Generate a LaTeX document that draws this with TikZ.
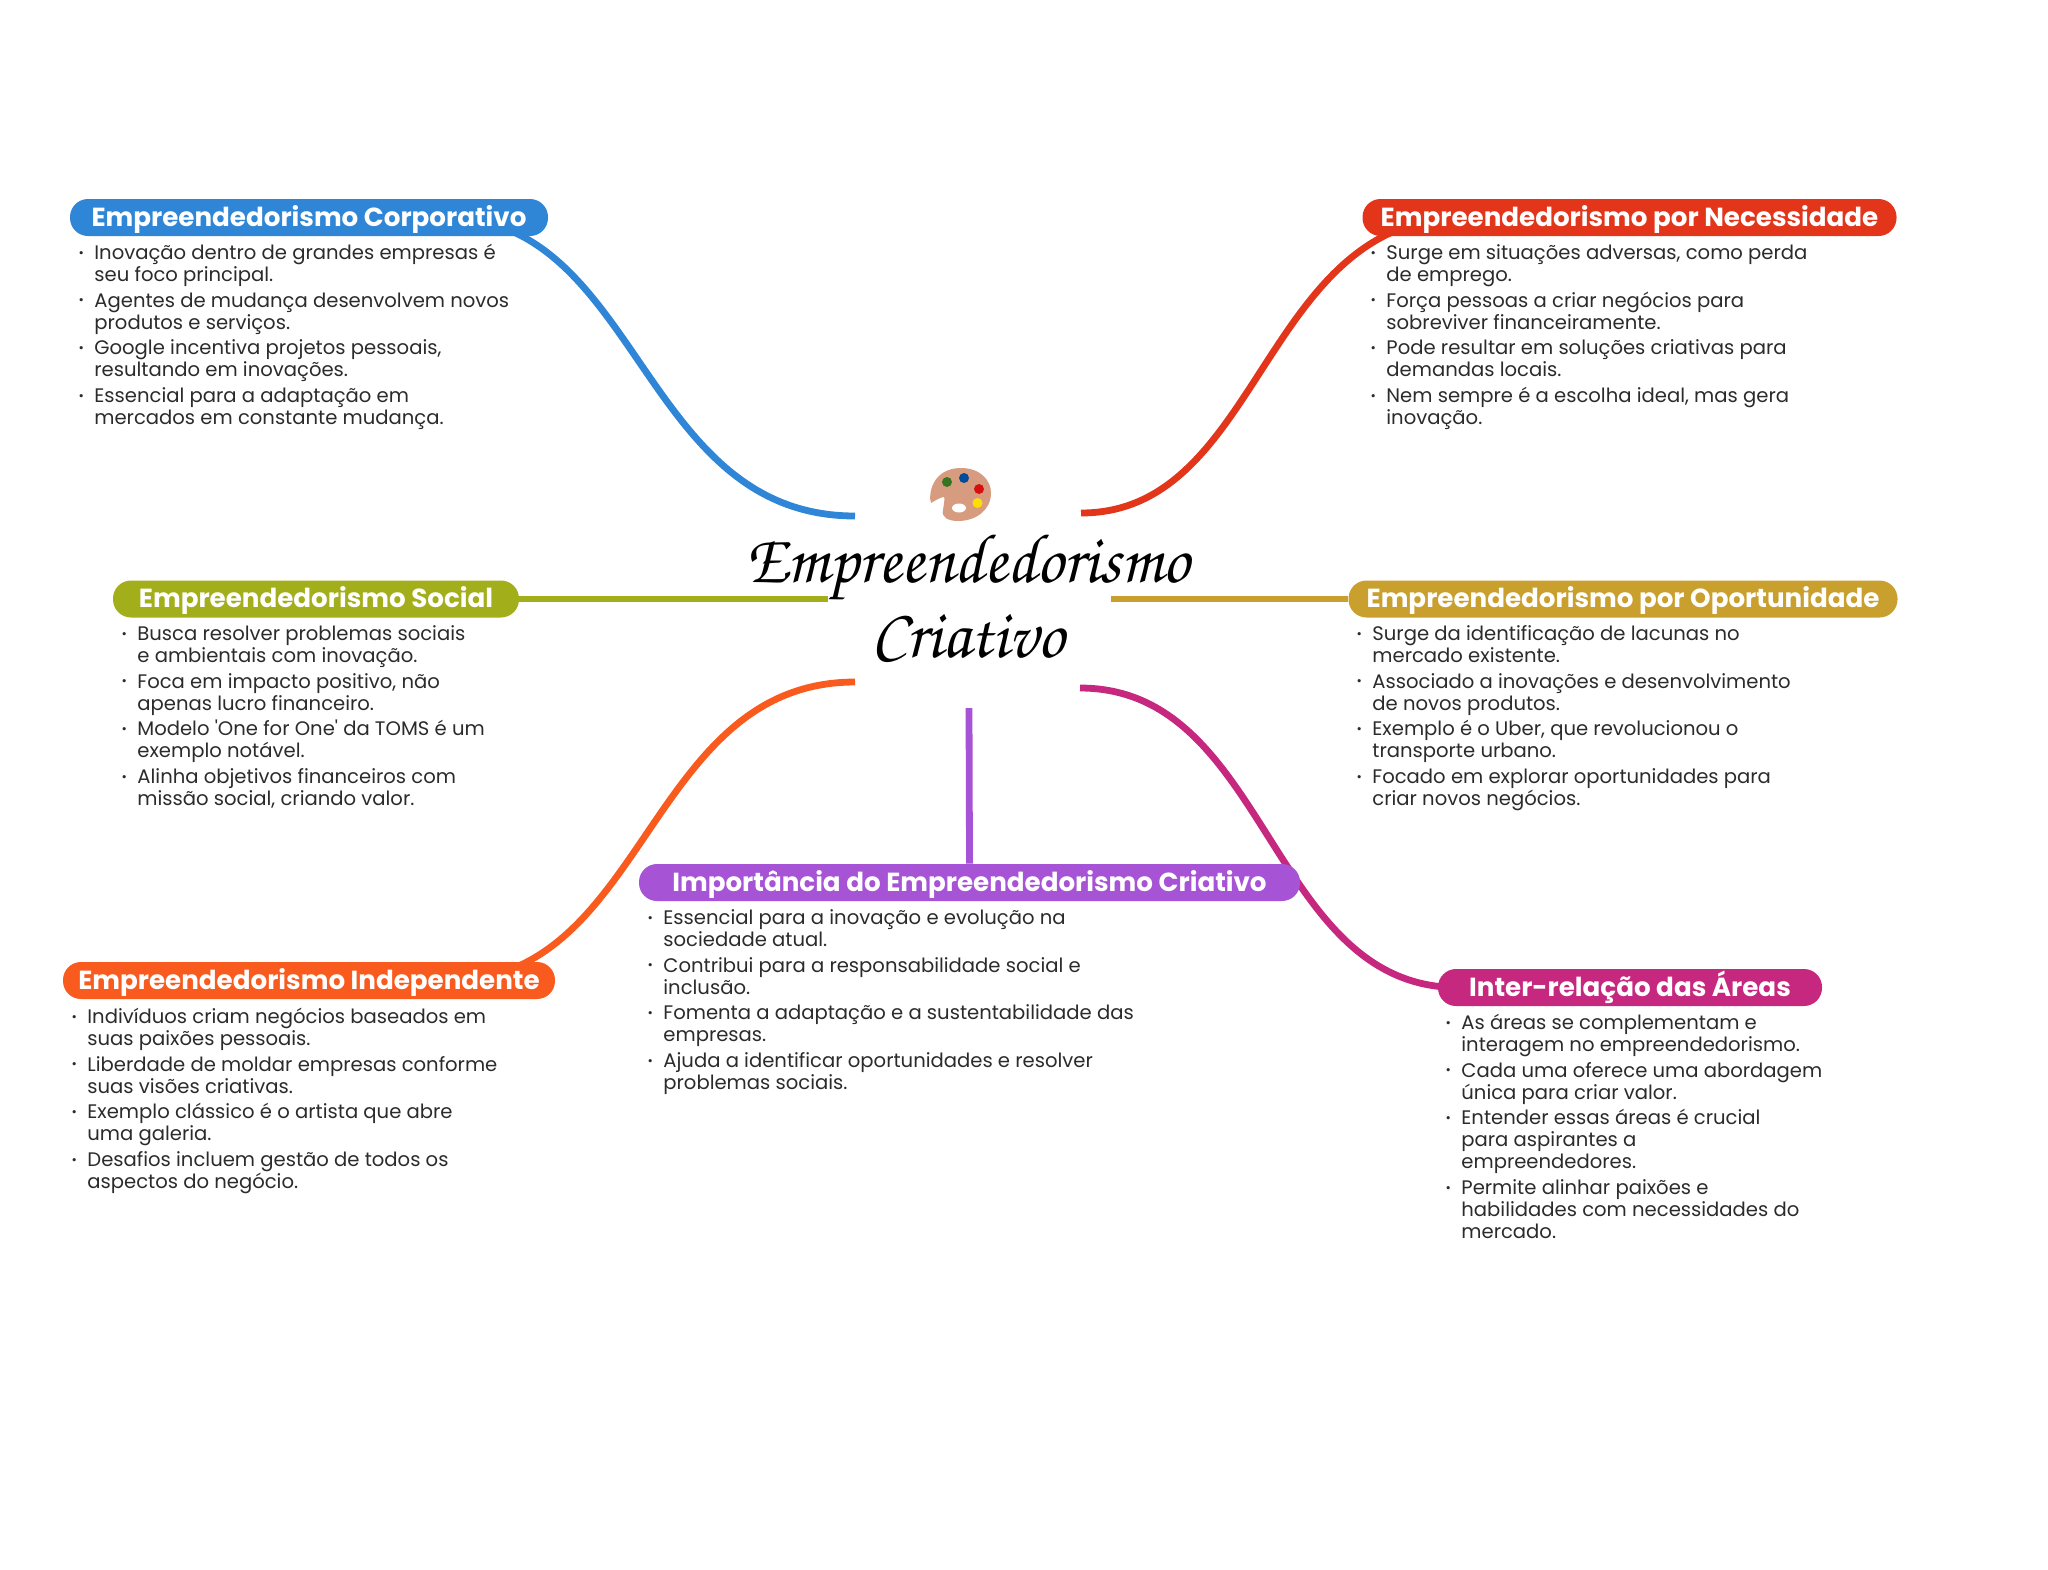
\documentclass[tikz,border=0pt]{standalone}
\usepackage[T1,TU]{fontenc}
\usepackage{fontspec}
\setmainfont{Poppins}[Ligatures=TeXOff]
\usetikzlibrary{backgrounds}
\definecolor{cBlue}{HTML}{2F86D6}
\definecolor{cRed}{HTML}{E2351A}
\definecolor{cOlive}{HTML}{A2AE1A}
\definecolor{cGold}{HTML}{C9A02E}
\definecolor{cPurple}{HTML}{A653D6}
\definecolor{cOrange}{HTML}{F95B1E}
\definecolor{cMagenta}{HTML}{C6287F}
\definecolor{cText}{HTML}{2B2B2B}
\definecolor{cPal}{HTML}{D79C80}
\newcommand\itm[1]{\makebox[0pt][r]{\raisebox{1.2pt}{\fontsize{6.5}{6.5}\selectfont•}\hspace{5.2pt}}\rule{0pt}{8pt}#1}
\newcommand\gp{\\[1.85pt]}
\tikzset{
  link/.style={line width=3.4pt,draw=#1,line cap=butt},
  pill/.style={fill=#1,rounded corners=9pt,inner sep=0pt,text=white,
    font=\fontsize{13.08}{13}\bfseries\selectfont,anchor=center,
    minimum height=18.5pt,text height=11pt,text depth=2.4pt},
  list/.style={anchor=north west,inner sep=0pt,align=left,text=cText,
    font=\fontsize{9.8}{11}\selectfont},
  titletext/.style={inner sep=0pt,text=black,align=center,
    font=\fontencoding{T1}\fontfamily{pzc}\fontseries{mb}\fontshape{it}\fontsize{35}{37.5}\selectfont}
}
\begin{document}
\begin{tikzpicture}[x=0.5pt,y=-0.5pt]
\useasboundingbox (0,0) rectangle (2048,1569);
% hub ends
\coordinate (hubNW) at (855,516);
\coordinate (hubNE) at (1081,513);
\coordinate (hubW) at (828,599);
\coordinate (hubE) at (1111,599);
\coordinate (hubSW) at (855,682);
\coordinate (hubS) at (969,708);
\coordinate (hubSE) at (1080,688);
% pills
\node[pill=cBlue,minimum width=239pt] (corp) at (309,217.5) {Empreendedorismo Corporativo};
\node[pill=cRed,minimum width=267pt] (nec) at (1629.5,217.5) {Empreendedorismo por Necessidade};
\node[pill=cOlive,minimum width=203pt] (soc) at (316,599) {Empreendedorismo Social};
\node[pill=cGold,minimum width=274.5pt] (opo) at (1623,599) {Empreendedorismo por Oportunidade};
\node[pill=cPurple,minimum width=330.5pt] (imp) at (969.5,882.5) {Importância do Empreendedorismo Criativo};
\node[pill=cOrange,minimum width=246pt] (ind) at (309,980.5) {Empreendedorismo Independente};
\node[pill=cMagenta,minimum width=192pt] (int) at (1630,987.5) {Inter-relação das Áreas};
% connectors
\begin{scope}[on background layer]
\draw[link=cBlue] (hubNW) .. controls (640,516) and (640,217.5) .. ([xshift=68pt]corp.center);
\draw[link=cRed] (hubNE) .. controls (1262,513) and (1262,217.5) .. ([xshift=-83pt]nec.center);
\draw[link=cOlive] (soc.east) -- (hubW);
\draw[link=cGold] (opo.west) -- (hubE);
\draw[link=cOrange] (hubSW) .. controls (647,682) and (647,980.5) .. ([xshift=70pt]ind.center);
\draw[link=cPurple] (imp.north) -- (hubS);
\draw[link=cMagenta] (hubSE) .. controls (1269,688) and (1269,987.5) .. ([xshift=-86pt]int.center);
\end{scope}
% lists
\node[list] (lCorp) at (94,243) {\itm{Inovação dentro de grandes empresas é}\\seu foco principal.\gp
\itm{Agentes de mudança desenvolvem novos}\\produtos e serviços.\gp
\itm{Google incentiva projetos pessoais,}\\resultando em inovações.\gp
\itm{Essencial para a adaptação em}\\mercados em constante mudança.};
\node[list] (lNec) at (1386,243) {\itm{Surge em situações adversas, como perda}\\de emprego.\gp
\itm{Força pessoas a criar negócios para}\\sobreviver financeiramente.\gp
\itm{Pode resultar em soluções criativas para}\\demandas locais.\gp
\itm{Nem sempre é a escolha ideal, mas gera}\\inovação.};
\node[list] (lSoc) at (137,624) {\itm{Busca resolver problemas sociais}\\e ambientais com inovação.\gp
\itm{Foca em impacto positivo, não}\\apenas lucro financeiro.\gp
\itm{Modelo 'One for One' da TOMS é um}\\exemplo notável.\gp
\itm{Alinha objetivos financeiros com}\\missão social, criando valor.};
\node[list] (lOpo) at (1372,624) {\itm{Surge da identificação de lacunas no}\\mercado existente.\gp
\itm{Associado a inovações e desenvolvimento}\\de novos produtos.\gp
\itm{Exemplo é o Uber, que revolucionou o}\\transporte urbano.\gp
\itm{Focado em explorar oportunidades para}\\criar novos negócios.};
\node[list] (lImp) at (663,908) {\itm{Essencial para a inovação e evolução na}\\sociedade atual.\gp
\itm{Contribui para a responsabilidade social e}\\inclusão.\gp
\itm{Fomenta a adaptação e a sustentabilidade das}\\empresas.\gp
\itm{Ajuda a identificar oportunidades e resolver}\\problemas sociais.};
\node[list] (lInd) at (87,1007) {\itm{Indivíduos criam negócios baseados em}\\suas paixões pessoais.\gp
\itm{Liberdade de moldar empresas conforme}\\suas visões criativas.\gp
\itm{Exemplo clássico é o artista que abre}\\uma galeria.\gp
\itm{Desafios incluem gestão de todos os}\\aspectos do negócio.};
\node[list] (lInt) at (1461,1013) {\itm{As áreas se complementam e}\\interagem no empreendedorismo.\gp
\itm{Cada uma oferece uma abordagem}\\única para criar valor.\gp
\itm{Entender essas áreas é crucial}\\para aspirantes a\\empreendedores.\gp
\itm{Permite alinhar paixões e}\\habilidades com necessidades do\\mercado.};
% palette
\fill[cPal] (961,468) .. controls (980,468) and (991,480) .. (991,493)
  .. controls (991,510) and (976,521) .. (958,521)
  .. controls (948,521) and (941,517) .. (943,510)
  .. controls (944,503) and (945,498) .. (944,497)
  .. controls (941,497) and (936,500) .. (931,503)
  .. controls (928,495) and (932,468) .. (961,468) -- cycle;
\fill[green!40!black!75!cPal] (947,482) circle (5);
\fill[blue!50!cyan!60!black] (964,478) circle (5);
\fill[red!85!black!90!cPal] (979,489) circle (5);
\fill[yellow!80!orange] (977.5,503) circle (5);
\fill[white] (959,508) ellipse (7 and 4.5);
% title
\node[titletext] (hub) at (968,596) {\scalebox{.955}[1]{Empreendedorismo}\\\scalebox{.955}[1]{Criativo}};
\end{tikzpicture}
\end{document}
